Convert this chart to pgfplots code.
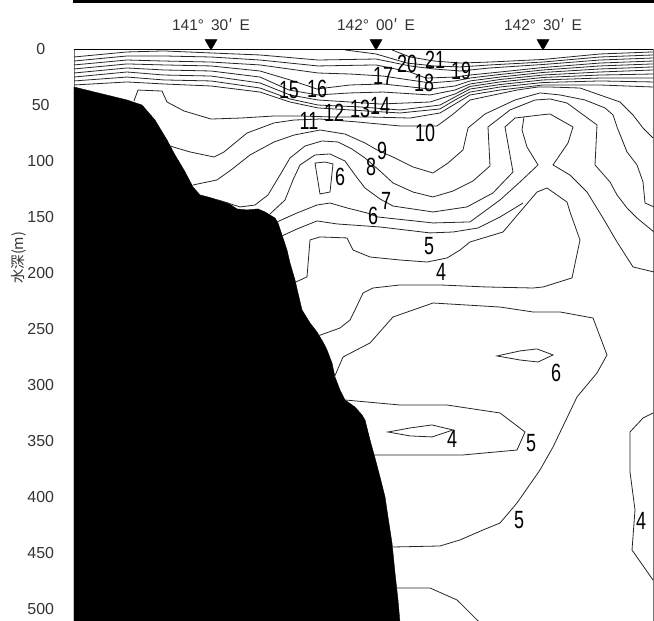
\documentclass[border=0pt]{standalone}
\usepackage{pgfplots}
\pgfplotsset{compat=1.18}
\usepackage{fontspec}
\setmainfont{Liberation Sans}
\newfontfamily\cjk{Noto Sans CJK JP}
\newfontfamily\lblfont[FakeStretch=0.72]{Liberation Sans}
\begin{document}
\begin{tikzpicture}[lbl/.style={font={\fontsize{25}{25}\lblfont}, inner sep=0pt, text=black}]
\begin{axis}[
  scale only axis, width=579bp, height=573.3bp,
  xmin=74, xmax=653, ymin=0, ymax=512, y dir=reverse,
  clip=false,
  /pgf/number format/assume math mode=true,
  axis line style={black!55, line width=0.8bp},
  xtick=\empty,
  ytick={0,50,...,500},
  ytick style={draw=none},
  tick align=outside,
  extra y ticks={0,100,...,500},
  extra y tick labels={},
  extra y tick style={major tick length=8bp, tick style={draw=black!60, line width=0.8bp}},
  ytick pos=left,
  yticklabel style={font=\fontsize{16}{16}\selectfont, text=black!80, anchor=center, xshift=-29bp},
  cline/.style={black!85, line width=0.8bp, no markers},
]
% sea floor
\addplot[fill=black, draw=black, no markers] coordinates {
(74,33.5) (127,45.1) (142,49.6) (155,63.0) (167,80.8) (175,94.2) (184,107.6) (193,122.8)
(200,129.9) (208,131.7) (218,134.4) (228,137.1) (237,142.4) (247,143.3) (258,142.4) (265,145.1)
(275,150.5) (278,154.9) (282,165.6) (287,179.1) (290,190.6) (295,205.8) (298,217.5) (302,232.6)
(310,244.2) (317,252.3) (323,261.2) (327,268.3) (332,280.0) (335,292.5) (340,304.1) (345,313.0)
(355,319.3) (362,326.4) (365,330.9) (370,348.7) (375,364.8) (380,381.8) (385,399.6) (388,417.5)
(392,440.7) (395,467.5) (398,491.6) (400,512) (74,512)} -- cycle;
% upper isotherms 21 ... 11
\addplot[cline] coordinates {(392,0.4) (410,6.7) (434,10.3) (460,12.1) (490,11.2) (543,8.9) (600,4.0) (653,2.2)};
\addplot[cline] coordinates {(345,0.4) (376,4.0) (407,12.1) (434,14.7) (460,15.6) (490,13.8) (543,11.2) (600,6.7) (653,4.9)};
\addplot[cline] coordinates {(74,6.7) (127,2.2) (164,1.3) (211,3.1) (260,4.9) (318,9.4) (376,8.5) (410,14.7) (434,17.4) (460,19.2) (490,16.5) (543,13.4) (600,9.4) (653,7.6)};
\addplot[cline] coordinates {(74,10.3) (127,5.8) (164,5.8) (211,6.7) (260,9.4) (318,14.7) (376,13.8) (410,20.1) (426,25.5) (455,24.6) (470,22.8) (500,20.1) (543,16.1) (600,12.1) (653,10.3)};
\addplot[cline] coordinates {(74,13.8) (127,9.4) (164,10.3) (211,11.2) (260,13.8) (318,21.0) (350,21.9) (383,23.7) (430,29.9) (455,28.1) (470,25.5) (500,22.3) (543,18.3) (600,14.7) (653,12.9)};
\addplot[cline] coordinates {(74,17.4) (127,12.9) (164,13.8) (211,14.7) (260,19.2) (290,27.2) (317,35.3) (350,31.7) (383,30.8) (430,35.3) (455,32.6) (470,28.1) (500,24.6) (543,20.5) (600,17.4) (653,15.6)};
\addplot[cline] coordinates {(74,21.0) (127,16.5) (164,18.3) (211,19.2) (260,24.6) (289,36.2) (318,40.6) (350,38.8) (383,38.0) (430,40.6) (455,36.2) (470,30.8) (500,26.8) (543,22.8) (600,20.1) (653,18.3)};
\addplot[cline] coordinates {(74,24.6) (127,20.1) (164,22.8) (211,23.7) (260,29.9) (290,40.6) (318,45.1) (350,46.9) (380,48.7) (430,46.9) (455,39.7) (470,33.0) (500,29.0) (543,25.0) (600,22.8) (653,21.9)};
\addplot[cline] coordinates {(74,28.1) (127,24.6) (164,27.2) (211,28.1) (260,34.4) (290,44.2) (318,49.6) (360,51.3) (400,54.0) (440,49.6) (455,42.4) (470,35.3) (500,31.3) (543,27.2) (600,25.5) (653,25.5)};
\addplot[cline] coordinates {(74,31.7) (127,29.0) (164,30.8) (211,32.6) (260,38.0) (290,46.9) (318,52.2) (350,54.0) (400,56.7) (440,53.1) (455,45.1) (470,38.0) (500,33.5) (543,29.5) (600,28.1) (653,29.0)};
\addplot[cline] coordinates {(134,46.0) (138,36.2) (162,37.1) (167,46.9) (184,54.9) (211,62.1) (241,61.2) (274,59.4) (300,59.4) (334,60.3) (370,60.3) (410,61.2) (440,56.7) (455,48.7) (470,40.6) (500,36.2) (543,31.7) (600,31.7) (653,33.5)};
% 10
\addplot[cline] coordinates {(170,86.2) (190,91.5) (214,96.0) (224,91.5) (247,74.6) (274,65.6) (294,63.0) (320,62.1) (357,64.7) (400,68.3) (437,68.3) (452,58.5) (470,45.1) (517,36.2) (538,33.5) (550,33.5) (580,34.4) (620,46.9) (633,58.5) (643,70.1) (653,79.0)};
% 9
\addplot[cline] coordinates {(193,121.0) (217,116.5) (231,107.6) (250,94.2) (274,82.6) (294,76.4) (320,71.9) (345,75.5) (365,83.5) (377,89.7) (395,96.9) (413,104.9) (433,110.3) (448,101.4) (463,89.7) (468,70.1) (485,57.6) (515,45.1) (540,38.8) (560,40.6) (585,45.1) (605,52.2) (613,58.5) (617,69.2) (627,91.5) (637,103.1) (643,118.3) (645,137.1) (654,140.6)};
% 8
\addplot[cline] coordinates {(218,134.4) (240,140.6) (255,138.9) (268,129.9) (280,112.1) (290,96.9) (305,86.2) (322,81.7) (338,82.6) (352,88.9) (365,96.9) (380,108.5) (393,119.2) (413,127.3) (433,131.7) (453,126.4) (473,117.4) (490,104.0) (488,69.2) (510,54.0) (535,45.1) (550,44.2) (567,47.8) (597,67.4) (595,103.1) (610,118.3) (617,129.9) (627,141.5) (637,150.5) (654,163.0)};
% 7
\addplot[cline] coordinates {(270,146.9) (285,134.4) (293,116.5) (300,103.1) (315,94.2) (330,93.3) (345,99.6) (355,112.1) (365,123.7) (380,133.5) (393,139.8) (433,145.1) (467,140.6) (493,128.1) (513,109.4) (505,69.2) (515,61.2) (540,58.5) (550,57.6) (573,69.2) (568,83.5) (553,103.1) (570,112.1) (587,127.3) (603,150.5) (617,171.9) (633,194.2) (654,198.7)};
% 6
\addplot[cline] coordinates {(277,154.0) (297,146.0) (317,138.9) (330,137.1) (347,141.5) (367,146.0) (378,149.6) (433,154.9) (470,154.0) (500,134.4) (520,118.3) (538,103.1) (527,87.1) (522,71.9) (524,60.3)};
\addplot[cline] coordinates {(315,101.4) (325,100.5) (333,102.2) (330,127.3) (320,129.0)} -- cycle;
% 5
\addplot[cline] coordinates {(282,166.5) (297,160.3) (317,153.1) (337,155.8) (380,158.5) (430,163.8) (453,163.0) (478,159.4) (500,149.6) (515,141.5) (523,137.1)};
% 4
\addplot[cline] coordinates {(296,207.6) (307,203.1) (310,170.1) (320,167.4) (347,168.3) (353,179.1) (370,185.3) (400,188.0) (427,189.8) (447,186.2) (460,179.1) (470,171.9) (503,163.0) (520,145.1) (537,127.3) (547,123.7) (567,136.2) (570,145.1) (580,170.1) (572,204.0) (543,212.1) (533,213.0) (487,212.1) (440,210.3) (400,210.3) (373,213.0) (363,217.5) (355,232.6) (350,241.6) (340,248.7) (318,255.8)};
% deep
\addplot[cline] coordinates {(334,293.3) (343,274.6) (370,262.1) (393,238.9) (433,226.4) (500,230.0) (533,234.4) (560,234.4) (593,239.8) (607,272.8) (597,288.9) (577,310.3) (553,355.0) (540,375.5) (517,405.0) (500,422.9) (483,429.1) (460,438.0) (440,443.4) (393,444.3)};
\addplot[cline] coordinates {(497,273.7) (520,269.2) (537,267.4) (553,272.8) (538,279.1) (520,277.3)} -- cycle;
\addplot[cline] coordinates {(345,313.0) (367,314.8) (400,317.5) (447,317.5) (500,324.6) (525,341.6) (517,357.7) (463,362.1) (400,362.1) (374,362.1)};
\addplot[cline] coordinates {(388,341.6) (410,338.0) (432,335.3) (453,339.8) (432,346.0) (410,345.1)} -- cycle;
\addplot[cline] coordinates {(397,480.9) (430,480.9) (457,491.6) (480,512)};
\addplot[cline] coordinates {(653,324.6) (643,329.1) (630,341.6) (630,377.3) (635,411.2) (632,447.0) (653,473.8)};
% surface and frame
\addplot[black, line width=1.2bp, no markers] coordinates {(74,0) (653,0)};
\addplot[black, line width=3bp, no markers] coordinates {(73,-43.3) (660,-43.3)};
\addplot[only marks, mark=triangle*, mark size=6.9bp, mark options={rotate=180, fill=black, draw=black}] coordinates {(211,-5.7) (376,-5.7) (543,-5.7)};
% labels
\node[lbl] at (axis cs:435,9.4) {21};
\node[lbl] at (axis cs:407,12.9) {20};
\node[lbl] at (axis cs:461,19.2) {19};
\node[lbl] at (axis cs:424,30.3) {18};
\node[lbl] at (axis cs:383,23.7) {17};
\node[lbl] at (axis cs:317,35.3) {16};
\node[lbl] at (axis cs:289,36.2) {15};
\node[lbl] at (axis cs:380,50.5) {14};
\node[lbl] at (axis cs:360,53.1) {13};
\node[lbl] at (axis cs:334,56.7) {12};
\node[lbl] at (axis cs:309,63.8) {11};
\node[lbl] at (axis cs:425,74.6) {10};
\node[lbl] at (axis cs:382,90.6) {9};
\node[lbl] at (axis cs:371,104.9) {8};
\node[lbl] at (axis cs:340,113.9) {6};
\node[lbl] at (axis cs:386,135.3) {7};
\node[lbl] at (axis cs:373,148.7) {6};
\node[lbl] at (axis cs:429,175.5) {5};
\node[lbl] at (axis cs:441,198.7) {4};
\node[lbl] at (axis cs:556,288.9) {6};
\node[lbl] at (axis cs:452,347.8) {4};
\node[lbl] at (axis cs:531,351.4) {5};
\node[lbl] at (axis cs:519,420.2) {5};
\node[lbl] at (axis cs:641,421.0) {4};
\node[font=\fontsize{15.5}{15.5}\selectfont, text=black!80] at (axis cs:211,-21.9) {141°\hspace{7bp}30{\cjk ′}\hspace{7bp}E};
\node[font=\fontsize{15.5}{15.5}\selectfont, text=black!80] at (axis cs:376,-21.9) {142°\hspace{7bp}00{\cjk ′}\hspace{7bp}E};
\node[font=\fontsize{15.5}{15.5}\selectfont, text=black!80] at (axis cs:543,-21.9) {142°\hspace{7bp}30{\cjk ′}\hspace{7bp}E};
\node[rotate=90, font={\fontsize{14.5}{14.5}\cjk}, text=black!80] at (axis cs:19,186) {水深(m)};
\coordinate (bbA) at (axis cs:0,-44.2);
\coordinate (bbB) at (axis cs:654,510.3);
\end{axis}
\pgfresetboundingbox
\path[use as bounding box] (bbA) rectangle (bbB);
\end{tikzpicture}
\end{document}
